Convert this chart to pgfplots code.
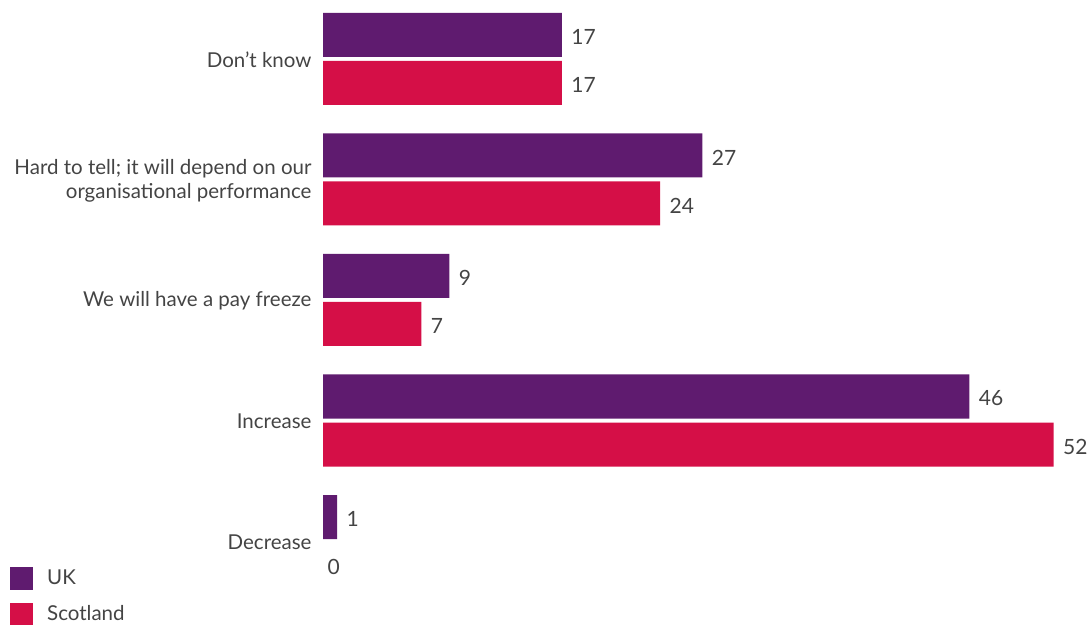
\documentclass[border=0pt]{standalone}
\usepackage{pgfplots}
\pgfplotsset{compat=1.18}
\usepackage{fontspec}
\setmainfont{Lato}
\definecolor{ukc}{RGB}{95,27,111}
\definecolor{scc}{RGB}{213,15,71}
\definecolor{txt}{RGB}{68,68,68}
\begin{document}
\begin{tikzpicture}[x=1pt,y=1pt]
\begin{axis}[
  at={(323pt,22.75pt)}, anchor=south west,
  scale only axis,
  x=14.05pt, y=120.5pt,
  xmin=0, xmax=55, ymin=-0.5, ymax=4.5,
  clip=false,
  xbar, bar width=44pt,
  /pgf/number format/assume math mode=true,
  ytick={0,1,2,3,4},
  yticklabels={Decrease,Increase,We will have a pay freeze,{Hard to tell; it will depend on our\\organisational performance},Don’t know},
  yticklabel style={font=\fontsize{20.5}{24}\selectfont, text=txt, align=right, anchor=east, xshift=-8pt, yshift=-1pt},
  hide x axis,
  axis line style={draw=none},
  major tick length=0pt,
  nodes near coords,
  every node near coord/.append style={font=\fontsize{21}{24}\selectfont, text=txt, anchor=west, xshift=6pt, yshift=-2pt},
  legend style={at={(-0.405,0.058)}, anchor=north west, draw=none, fill=none, font=\fontsize{20.5}{22}\selectfont, text=txt, row sep=13pt, inner sep=0pt, legend cell align=left, nodes={inner sep=0pt}},
  legend image code/.code={\fill[#1] (0pt,-11.5pt) rectangle (23pt,11.5pt); \path (37pt,0pt);},
]
\addplot[fill=ukc, draw=none, bar shift=24pt] coordinates {(1,0) (46,1) (9,2) (27,3) (17,4)};
\addlegendentry{UK}
\addplot[fill=scc, draw=none, bar shift=-24pt] coordinates {(52,1) (7,2) (24,3) (17,4)};
\addlegendentry{Scotland}
\addplot[draw=none, fill=none, bar shift=-24pt, forget plot, every node near coord/.append style={xshift=-5pt}] coordinates {(0,0)};
\end{axis}
\pgfresetboundingbox
\path[use as bounding box] (0,0) rectangle (1091,624);
\end{tikzpicture}
\end{document}
